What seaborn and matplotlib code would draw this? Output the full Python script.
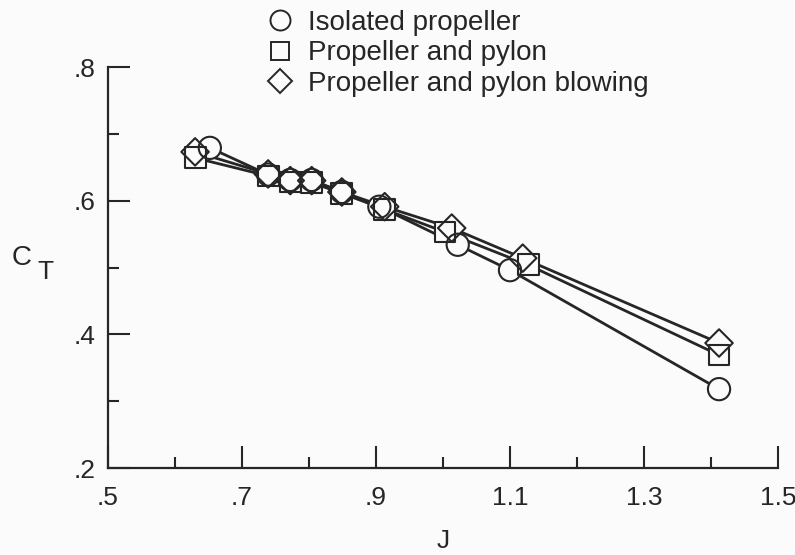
import matplotlib
matplotlib.use("Agg")
import matplotlib.pyplot as plt
from matplotlib.lines import Line2D
from matplotlib.ticker import MultipleLocator, FixedLocator
import seaborn as sns
import pandas as pd

# ---- data ----
J_iso = [0.652, 0.739, 0.772, 0.804, 0.849, 0.905, 1.022, 1.100, 1.412]
CT_iso = [0.679, 0.639, 0.631, 0.631, 0.613, 0.591, 0.534, 0.496, 0.318]

J_pyl = [0.630, 0.739, 0.772, 0.804, 0.849, 0.913, 1.003, 1.127, 1.412]
CT_pyl = [0.664, 0.637, 0.628, 0.627, 0.611, 0.587, 0.553, 0.504, 0.369]

J_blow = [0.630, 0.739, 0.772, 0.804, 0.849, 0.913, 1.013, 1.119, 1.412]
CT_blow = [0.673, 0.640, 0.630, 0.630, 0.613, 0.591, 0.559, 0.514, 0.387]

labels = ["Isolated propeller", "Propeller and pylon", "Propeller and pylon blowing"]
x_ticks = [0.5, 0.7, 0.9, 1.1, 1.3, 1.5]
x_ticklabels = [".5", ".7", ".9", "1.1", "1.3", "1.5"]
y_ticks = [0.2, 0.4, 0.6, 0.8]
y_ticklabels = [".2", ".4", ".6", ".8"]

sns.set_theme(style="white")
plt.rcParams["font.family"] = ["Liberation Sans", "DejaVu Sans"]

ink = "#262626"
markers = ["o", "s", "D"]
sizes = [16, 15, 14]

fig = plt.figure(figsize=(7.95, 5.55), dpi=100)
fig.patch.set_facecolor("#fbfbfb")
ax = fig.add_axes([108 / 795, 1 - 468 / 555, 670 / 795, (468 - 67) / 555])
ax.set_facecolor("#fbfbfb")

series = [(J_iso, CT_iso), (J_pyl, CT_pyl), (J_blow, CT_blow)]
frames = []
for lab, (jj, cc) in zip(labels, series):
    frames.append(pd.DataFrame({"J": jj, "CT": cc, "series": lab}))
df = pd.concat(frames, ignore_index=True)

# lines
for lab in labels:
    sub = df[df["series"] == lab]
    sns.lineplot(data=sub, x="J", y="CT", sort=False, color=ink, lw=2.0,
                 ax=ax, zorder=2, legend=False, estimator=None)

# white fills to hide lines inside markers
for lab, m, ms in zip(labels, markers, sizes):
    sub = df[df["series"] == lab]
    sns.scatterplot(data=sub, x="J", y="CT", marker=m, s=ms ** 2,
                    color="#fbfbfb", edgecolor="none", linewidth=0,
                    ax=ax, zorder=3, legend=False)
# outlines
for lab, m, ms in zip(labels, markers, sizes):
    sub = df[df["series"] == lab]
    sns.scatterplot(data=sub, x="J", y="CT", marker=m, s=ms ** 2,
                    facecolor="none", edgecolor=ink, linewidth=1.5,
                    ax=ax, zorder=4, legend=False)

ax.set_xlim(0.5, 1.5)
ax.set_ylim(0.2, 0.8)
ax.xaxis.set_major_locator(FixedLocator(x_ticks))
ax.xaxis.set_minor_locator(MultipleLocator(0.1))
ax.yaxis.set_major_locator(FixedLocator(y_ticks))
ax.yaxis.set_minor_locator(MultipleLocator(0.1))
ax.set_xticklabels(x_ticklabels)
ax.set_yticklabels(y_ticklabels)

for s in ["top", "right"]:
    ax.spines[s].set_visible(False)
for s in ["left", "bottom"]:
    ax.spines[s].set_color(ink)
    ax.spines[s].set_linewidth(1.6)

ax.tick_params(axis="both", which="major", direction="in", length=15.5,
               width=1.5, color=ink, labelsize=19, labelcolor=ink)
ax.tick_params(axis="both", which="minor", direction="in", length=8,
               width=1.5, color=ink)
ax.tick_params(axis="x", which="major", pad=13)
ax.tick_params(axis="y", which="major", pad=9)
ax.tick_params(axis="both", which="both", bottom=True, left=True)

ax.set_xlabel("J", fontsize=19, color=ink, labelpad=14)
ax.set_ylabel("")
fig.text(22 / 795, 1 - 258 / 555, "C", fontsize=20, color=ink, ha="center", va="center")
fig.text(45 / 795, 1 - 272 / 555, "T", fontsize=19, color=ink, ha="center", va="center")

handles = [Line2D([], [], linestyle="none", marker=m, markersize=ms * 0.9,
                  markerfacecolor="none", markeredgecolor=ink, markeredgewidth=1.4)
           for m, ms in zip(markers, sizes)]
leg = ax.legend(handles, labels, loc="upper left",
                bbox_to_anchor=(266 / 795, 1 - 10 / 555),
                bbox_transform=fig.transFigure, frameon=False,
                fontsize=20, handlelength=1.0, handletextpad=0.5,
                labelspacing=0.16, borderpad=0, borderaxespad=0)
for t in leg.get_texts():
    t.set_color(ink)

fig.savefig("out.png", dpi=100, facecolor=fig.get_facecolor())
